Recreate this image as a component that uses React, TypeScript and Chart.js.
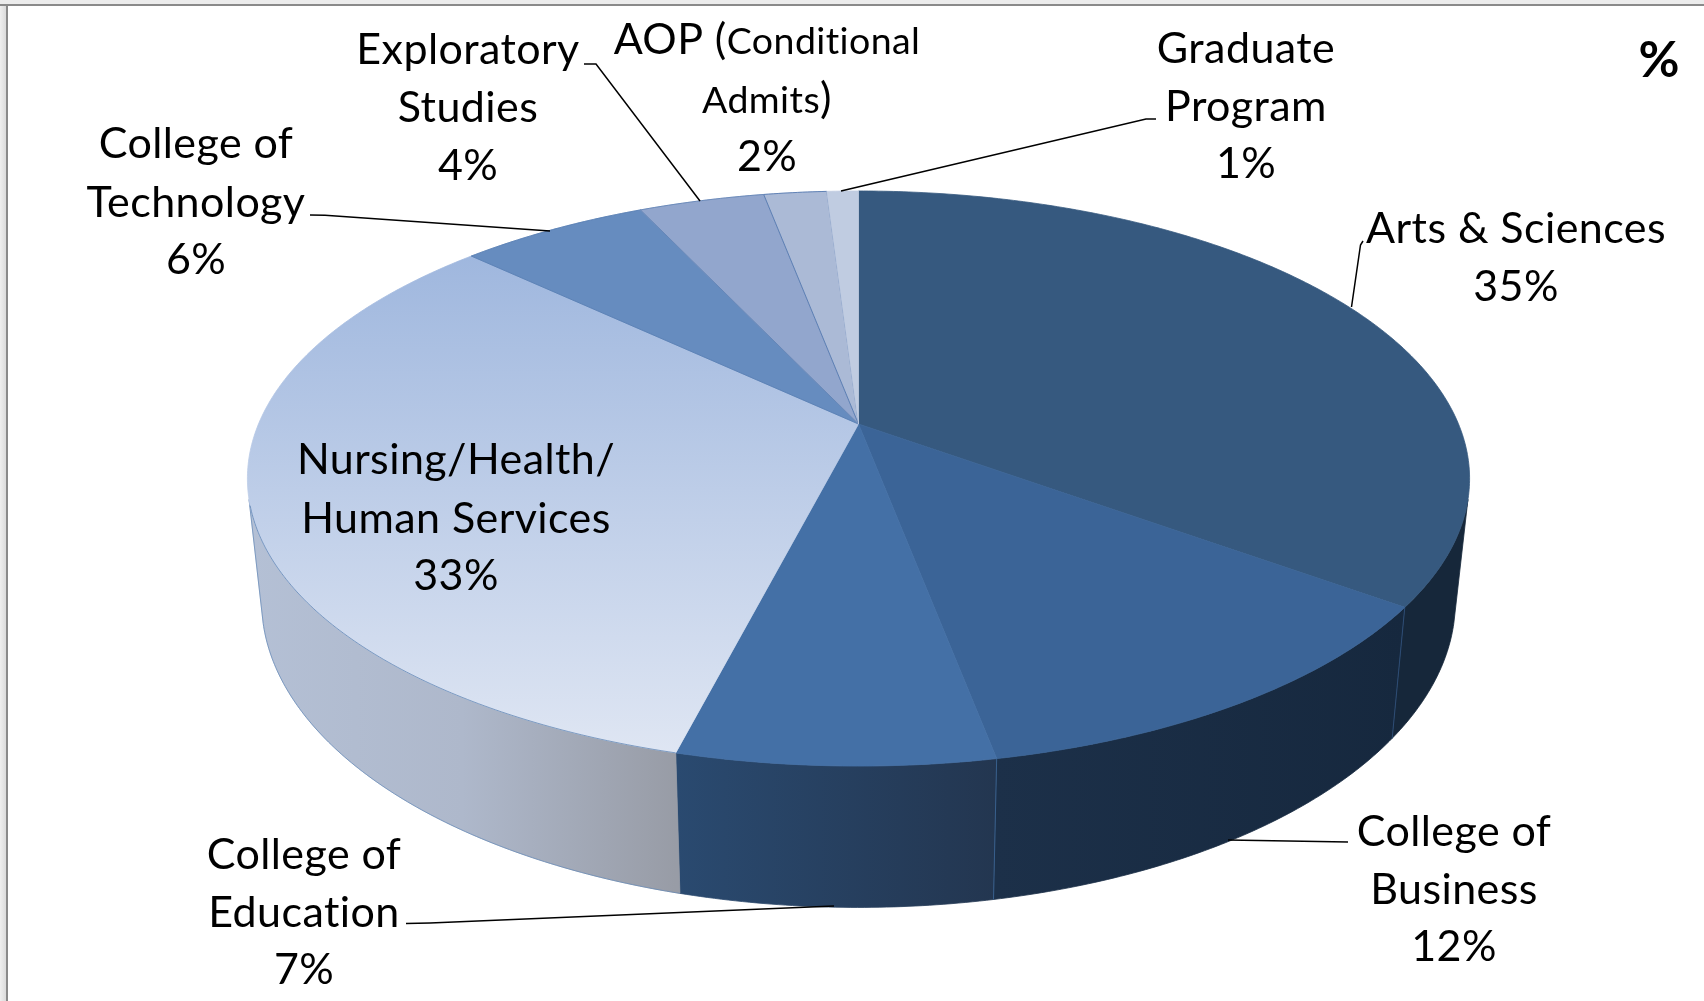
import React, { useEffect, useRef } from "react";
import { Chart, registerables, ArcElement, DoughnutController } from "chart.js";

// ---------- data ----------
const categories = [
  "Arts & Sciences",
  "College of Business",
  "College of Education",
  "Nursing/Health/Human Services",
  "College of Technology",
  "Exploratory Studies",
  "AOP (Conditional Admits)",
  "Graduate Program",
];
const percents = [35, 12, 7, 33, 6, 4, 2, 1];

// ---------- styles ----------
const topColors = ["#36597f", "#3b6497", "#4470a6", "#b9c9e5", "#668cbf", "#92a6cd", "#abbad6", "#c0cce1"];
const topEdges = [null, null, null, null, "rgba(75,115,170,0.5)", "rgba(75,115,170,0.6)", "rgba(70,110,170,0.75)", null];
const nursingGradient = ["#9fb7de", "#dfe6f3"];
const wallStops = [
  ["#16273a", "#16273a"],
  ["#1c3049", "#16283e"],
  ["#2a4a70", "#233650"],
  ["#b4c0d5", "#aeb8cb", "#989ca6"],
  [],
  [],
  [],
  [],
];
const wallSeams = ["rgba(50,85,130,0.8)", "rgba(60,105,155,0.8)", null, null];

// Perspective of the pie's top and bottom discs
const CX = 858.5;
const TOP = { d: 600, a: 196.8, b: 424, c: -0.1896 };
const BOTTOM = { d: 586, a: 192, b: 543, c: -0.19 };
const WALL_FROM = (105 * Math.PI) / 180;
const WALL_TO = (255 * Math.PI) / 180;

const FONT = "Lato, Carlito, sans-serif";
const LABEL_SIZE = 43;
const SMALL_SIZE = 37.5;
const TRACKING = "0.42px";

type Run = [string, number];
const labelBlocks: { x: number; lines: { y: number; runs: Run[] }[] }[] = [
  { x: 1516, lines: [{ y: 243, runs: [["Arts & Sciences", LABEL_SIZE]] }, { y: 301, runs: [["35%", LABEL_SIZE]] }] },
  { x: 1454, lines: [{ y: 846, runs: [["College of", LABEL_SIZE]] }, { y: 904, runs: [["Business", LABEL_SIZE]] }, { y: 961, runs: [["12%", LABEL_SIZE]] }] },
  { x: 304, lines: [{ y: 869, runs: [["College of", LABEL_SIZE]] }, { y: 927, runs: [["Education", LABEL_SIZE]] }, { y: 984, runs: [["7%", LABEL_SIZE]] }] },
  { x: 456, lines: [{ y: 474, runs: [["Nursing/Health/", LABEL_SIZE]] }, { y: 533, runs: [["Human Services", LABEL_SIZE]] }, { y: 590, runs: [["33%", LABEL_SIZE]] }] },
  { x: 196, lines: [{ y: 158, runs: [["College of", LABEL_SIZE]] }, { y: 217, runs: [["Technology", LABEL_SIZE]] }, { y: 274, runs: [["6%", LABEL_SIZE]] }] },
  { x: 468, lines: [{ y: 64, runs: [["Exploratory", LABEL_SIZE]] }, { y: 122, runs: [["Studies", LABEL_SIZE]] }, { y: 180, runs: [["4%", LABEL_SIZE]] }] },
  { x: 767, lines: [{ y: 54, runs: [["AOP (", LABEL_SIZE], ["Conditional", SMALL_SIZE]] }, { y: 113, runs: [["Admits", SMALL_SIZE], [")", LABEL_SIZE]] }, { y: 171, runs: [["2%", LABEL_SIZE]] }] },
  { x: 1246, lines: [{ y: 63, runs: [["Graduate", LABEL_SIZE]] }, { y: 121, runs: [["Program", LABEL_SIZE]] }, { y: 178, runs: [["1%", LABEL_SIZE]] }] },
];

const leaders = [
  [[1363, 241], [1360.5, 245], [1351.5, 307]],
  [[1348, 842], [1228, 840]],
  [[406, 923.5], [430, 923], [834, 906]],
  [[310, 215], [325, 215.3], [550, 231]],
  [[584, 64], [596, 64], [700, 201]],
  [[1156, 119], [1146, 119], [841, 191]],
];

// ---------- geometry ----------
type Disc = typeof TOP;
const project = (disc: Disc, theta: number) => {
  const u = Math.sin(theta);
  const v = -Math.cos(theta);
  const w = 1 + disc.c * v;
  return { x: CX + (disc.d * u) / w, y: (disc.a * v + disc.b) / w };
};
const toTheta = (angle: number) => angle + Math.PI / 2;

const traceRim = (ctx: CanvasRenderingContext2D, disc: Disc, from: number, to: number, move = false) => {
  const steps = Math.max(4, Math.ceil(Math.abs(to - from) / 0.01));
  for (let i = 0; i <= steps; i++) {
    const p = project(disc, from + ((to - from) * i) / steps);
    if (i === 0 && move) ctx.moveTo(p.x, p.y);
    else ctx.lineTo(p.x, p.y);
  }
};

// ---------- library pieces ----------
class Pie3DArc extends ArcElement {
  static id = "pie3dArc";
  draw(ctx: CanvasRenderingContext2D) {
    const a = this as any;
    const t0 = toTheta(a.startAngle);
    const t1 = toTheta(a.endAngle);
    const o = a.options;
    ctx.save();
    ctx.beginPath();
    ctx.moveTo(CX, TOP.b);
    traceRim(ctx, TOP, t0, t1);
    ctx.closePath();
    let fill: any = o.backgroundColor;
    const isNursing = o.backgroundColor === topColors[3];
    if (isNursing) {
      const g = ctx.createLinearGradient(0, 255, 0, 755);
      g.addColorStop(0, nursingGradient[0]);
      g.addColorStop(1, nursingGradient[1]);
      fill = g;
    }
    ctx.fillStyle = fill;
    ctx.fill();
    ctx.strokeStyle = fill;
    ctx.lineWidth = 0.8;
    ctx.stroke();
    if (o.borderColor && o.borderColor !== "transparent") {
      ctx.strokeStyle = o.borderColor;
      ctx.lineWidth = 1;
      ctx.stroke();
    }
    if (isNursing) {
      // only the front rim of this slice carries an outline
      ctx.beginPath();
      traceRim(ctx, TOP, t0, t0 + (t1 - t0) * 0.5, true);
      ctx.strokeStyle = "rgba(85,125,175,0.7)";
      ctx.lineWidth = 1;
      ctx.stroke();
    }
    ctx.restore();
  }
}

class Pie3DController extends DoughnutController {
  static id = "pie3d";
  static defaults = { dataElementType: "pie3dArc" };
}

Chart.register(...registerables, Pie3DArc, Pie3DController);

const framePlugin = {
  id: "frame",
  beforeDraw(chart: any) {
    const { ctx, width, height } = chart;
    ctx.save();
    ctx.fillStyle = "#ffffff";
    ctx.fillRect(0, 0, width, height);
    const g = ctx.createLinearGradient(0, 0, 7, 0);
    g.addColorStop(0, "#efefef");
    g.addColorStop(1, "#d8d8d8");
    ctx.fillStyle = g;
    ctx.fillRect(0, 0, 7, height);
    ctx.fillStyle = "#ececec";
    ctx.fillRect(0, 0, width, 4);
    ctx.fillStyle = "#8a8a8a";
    ctx.fillRect(0, 4, width, 2);
    ctx.fillRect(6, 4, 2, height - 4);
    ctx.restore();
  },
};

const wallsPlugin = {
  id: "walls",
  beforeDatasetsDraw(chart: any) {
    const { ctx } = chart;
    const arcs = chart.getDatasetMeta(0).data;
    ctx.save();
    arcs.forEach((arc: any, i: number) => {
      const stops = wallStops[i];
      if (!stops.length) return;
      const t0 = Math.max(toTheta(arc.startAngle), WALL_FROM);
      const t1 = Math.min(toTheta(arc.endAngle), WALL_TO);
      if (t1 <= t0) return;
      const xa = project(TOP, t0).x;
      const xb = project(TOP, t1).x;
      const g = ctx.createLinearGradient(Math.min(xa, xb), 0, Math.max(xa, xb), 0);
      // stops run from the left of the picture to the right
      stops.forEach((s: string, k: number) => g.addColorStop(k / (stops.length - 1), s));
      ctx.beginPath();
      traceRim(ctx, TOP, t0, t1, true);
      traceRim(ctx, BOTTOM, t1, t0);
      ctx.closePath();
      ctx.fillStyle = g;
      ctx.fill();
      ctx.strokeStyle = g;
      ctx.lineWidth = 0.8;
      ctx.stroke();
      if (i === 3) {
        ctx.beginPath();
        traceRim(ctx, BOTTOM, t0, t1, true);
        const e = project(TOP, t1);
        ctx.lineTo(e.x, e.y);
        ctx.strokeStyle = "rgba(90,130,180,0.65)";
        ctx.lineWidth = 1;
        ctx.stroke();
      }
    });
    arcs.forEach((arc: any, i: number) => {
      const seam = wallSeams[i];
      if (!seam) return;
      const t = toTheta(arc.endAngle);
      const p = project(TOP, t);
      const q = project(BOTTOM, t);
      ctx.beginPath();
      ctx.moveTo(p.x, p.y);
      ctx.lineTo(q.x, q.y);
      ctx.strokeStyle = seam;
      ctx.lineWidth = 1;
      ctx.stroke();
    });
    ctx.restore();
  },
};

const labelsPlugin = {
  id: "labels3d",
  afterDatasetsDraw(chart: any) {
    const { ctx } = chart;
    ctx.save();
    ctx.strokeStyle = "#000000";
    ctx.lineWidth = 1.5;
    leaders.forEach((pts) => {
      ctx.beginPath();
      pts.forEach(([x, y], i) => (i ? ctx.lineTo(x, y) : ctx.moveTo(x, y)));
      ctx.stroke();
    });
    ctx.fillStyle = "#000000";
    ctx.textBaseline = "alphabetic";
    ctx.textAlign = "left";
    (ctx as any).letterSpacing = TRACKING;
    labelBlocks.forEach((b) => {
      b.lines.forEach((line) => {
        let total = 0;
        line.runs.forEach(([t, s]) => {
          ctx.font = `${s}px ${FONT}`;
          total += ctx.measureText(t).width;
        });
        let x = b.x - total / 2;
        line.runs.forEach(([t, s]) => {
          ctx.font = `${s}px ${FONT}`;
          ctx.fillText(t, x, line.y);
          x += ctx.measureText(t).width;
        });
      });
    });
    (ctx as any).letterSpacing = "0px";
    ctx.font = `bold 50px ${FONT}`;
    ctx.textAlign = "center";
    ctx.fillText("%", 1659, 77);
    ctx.restore();
  },
};

export default function App() {
  const ref = useRef<HTMLCanvasElement | null>(null);
  useEffect(() => {
    if (!ref.current) return;
    const chart = new Chart(ref.current, {
      type: "pie3d" as any,
      data: {
        labels: categories,
        datasets: [
          {
            data: percents,
            backgroundColor: topColors,
            borderColor: topEdges.map((c) => c ?? "transparent"),
            borderWidth: 0,
          },
        ],
      },
      options: {
        animation: false,
        responsive: false,
        devicePixelRatio: 1,
        cutout: 0,
        events: [],
        plugins: { legend: { display: false }, tooltip: { enabled: false } },
      } as any,
      plugins: [framePlugin, wallsPlugin, labelsPlugin],
    });
    return () => chart.destroy();
  }, []);
  return (
    <canvas
      ref={ref}
      width={1704}
      height={1001}
      style={{ position: "fixed", left: 0, top: 0, display: "block" }}
    />
  );
}
